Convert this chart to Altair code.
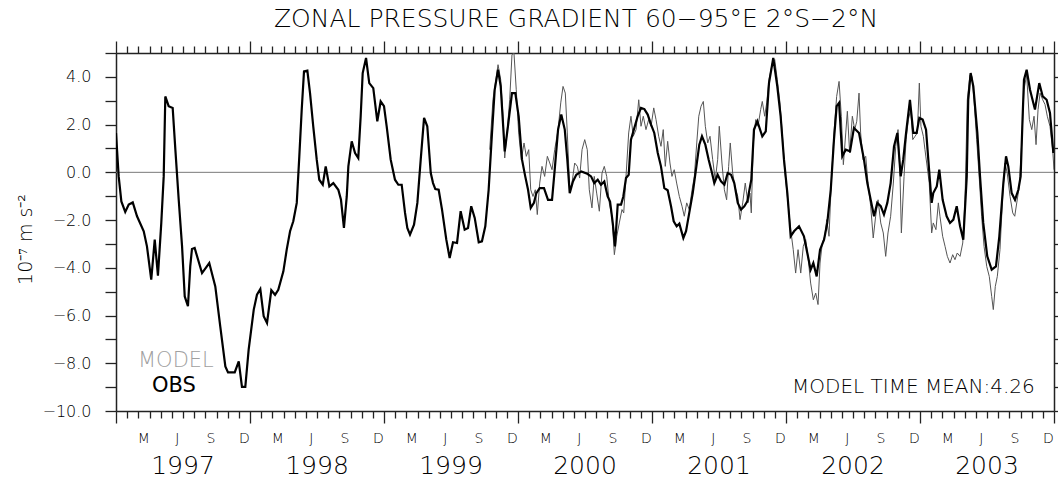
import altair as alt
import pandas as pd

# Observed gradient (10^-7 m s^-2), time in years since 1 Jan 1997
obs_t = [0.000, 0.020, 0.040, 0.069, 0.095, 0.125, 0.157, 0.207, 0.231, 0.263,
         0.289, 0.313, 0.338, 0.356, 0.368, 0.393, 0.423, 0.443, 0.468, 0.493,
         0.513, 0.537, 0.554, 0.567, 0.587, 0.642, 0.696, 0.741, 0.778, 0.816,
         0.836, 0.886, 0.916, 0.940, 0.965, 0.990, 1.028, 1.052, 1.077, 1.102,
         1.127, 1.159, 1.187, 1.211, 1.249, 1.274, 1.299, 1.323, 1.349, 1.368,
         1.386, 1.403, 1.428, 1.448, 1.472, 1.498, 1.517, 1.543, 1.565, 1.592,
         1.622, 1.659, 1.679, 1.701, 1.722, 1.734, 1.759, 1.784, 1.808, 1.826,
         1.841, 1.866, 1.890, 1.920, 1.950, 1.975, 2.000, 2.020, 2.050, 2.082,
         2.107, 2.132, 2.157, 2.174, 2.194, 2.224, 2.249, 2.274, 2.299, 2.323,
         2.349, 2.366, 2.383, 2.408, 2.433, 2.465, 2.490, 2.515, 2.545, 2.572,
         2.602, 2.627, 2.651, 2.677, 2.707, 2.731, 2.756, 2.781, 2.806, 2.826,
         2.851, 2.871, 2.901, 2.925, 2.955, 2.980, 3.005, 3.030, 3.054, 3.075,
         3.095, 3.119, 3.137, 3.162, 3.194, 3.224, 3.254, 3.274, 3.299, 3.323,
         3.349, 3.368, 3.386, 3.410, 3.435, 3.472, 3.517, 3.545, 3.569, 3.595,
         3.619, 3.644, 3.669, 3.687, 3.707, 3.724, 3.744, 3.769, 3.786, 3.806,
         3.826, 3.843, 3.868, 3.893, 3.918, 3.943, 3.968, 3.993, 4.017, 4.043,
         4.067, 4.092, 4.117, 4.142, 4.162, 4.184, 4.204, 4.234, 4.254, 4.278,
         4.304, 4.328, 4.353, 4.373, 4.398, 4.423, 4.448, 4.465, 4.490, 4.515,
         4.540, 4.565, 4.590, 4.614, 4.640, 4.664, 4.689, 4.711, 4.741, 4.761,
         4.786, 4.823, 4.849, 4.873, 4.905, 4.935, 4.960, 4.985, 5.010, 5.035,
         5.060, 5.097, 5.134, 5.159, 5.184, 5.204, 5.229, 5.254, 5.284, 5.308,
         5.334, 5.358, 5.378, 5.396, 5.420, 5.446, 5.478, 5.507, 5.545, 5.582,
         5.607, 5.632, 5.657, 5.681, 5.707, 5.731, 5.756, 5.781, 5.806, 5.831,
         5.856, 5.875, 5.896, 5.925, 5.950, 5.975, 5.995, 6.020, 6.045, 6.062,
         6.087, 6.099, 6.125, 6.144, 6.169, 6.199, 6.224, 6.249, 6.274, 6.299,
         6.323, 6.349, 6.360, 6.378, 6.398, 6.428, 6.448, 6.472, 6.502, 6.535,
         6.567, 6.592, 6.622, 6.642, 6.659, 6.684, 6.709, 6.734, 6.751, 6.766,
         6.776, 6.796, 6.821, 6.858, 6.890, 6.916, 6.945, 6.970, 6.995]
obs_v = [1.65, -0.17, -1.22, -1.66, -1.35, -1.26, -1.84, -2.47, -3.10, -4.50,
         -2.82, -4.33, -2.12, -0.17, 3.18, 2.77, 2.70, 0.95, -1.15, -3.10,
         -5.20, -5.61, -3.94, -3.21, -3.17, -4.22, -3.80, -4.78, -6.45, -8.13,
         -8.38, -8.38, -7.92, -8.99, -8.99, -7.43, -5.75, -5.13, -4.89, -6.03,
         -6.31, -4.94, -5.13, -4.92, -4.15, -3.24, -2.47, -2.05, -1.28, 0.67,
         2.63, 4.23, 4.26, 3.32, 1.93, 0.53, -0.31, -0.52, 0.25, -0.59,
         -0.45, -0.73, -1.15, -2.33, -1.01, 0.25, 1.30, 0.81, 0.60, 2.35,
         4.16, 4.79, 3.74, 3.53, 2.14, 2.97, 2.77, 1.93, 0.53, -0.31,
         -0.52, -0.52, -1.70, -2.33, -2.61, -2.19, -1.28, 0.53, 2.28, 1.93,
         -0.03, -0.45, -0.70, -0.73, -1.56, -2.82, -3.59, -2.93, -2.96, -1.63,
         -2.40, -2.33, -1.42, -1.91, -2.93, -2.89, -2.26, -0.73, 1.65, 3.46,
         4.30, 3.60, 0.88, 1.93, 3.32, 3.32, 2.35, 0.53, -0.17, -0.73,
         -1.49, -1.28, -0.87, -0.66, -0.66, -1.15, -1.15, 0.11, 1.79, 2.42,
         1.79, 0.53, -0.87, -0.38, -0.10, 0.04, -0.06, -0.17, -0.45, -0.31,
         -0.52, -0.38, -1.01, -1.22, -2.12, -3.10, -1.35, -1.35, -1.01, -0.24,
         -0.10, 1.37, 1.86, 2.35, 2.70, 2.65, 2.42, 2.00, 1.65, 0.81,
         0.25, -0.66, -0.75, -1.42, -2.05, -2.26, -2.15, -2.75, -2.47, -1.70,
         -0.87, 0.11, 1.16, 1.51, 1.16, 0.53, -0.03, -0.45, -0.10, -0.38,
         -0.52, -0.03, -0.10, -0.45, -1.28, -1.56, -1.42, -1.22, -0.31, 1.79,
         2.14, 1.51, 1.72, 3.74, 4.79, 3.60, 2.35, 0.53, -0.87, -2.68,
         -2.47, -2.26, -2.68, -3.38, -4.08, -3.80, -4.36, -3.24, -2.82, -2.12,
         -0.73, 1.37, 2.77, 2.91, 0.67, 0.95, 0.88, 1.86, 1.65, 0.53,
         -0.45, -1.15, -1.84, -1.28, -1.42, -1.77, -1.28, -0.45, 1.09, 1.65,
         -0.17, 0.53, 1.65, 3.04, 1.65, 1.65, 2.28, 2.21, 1.79, 0.53,
         -1.28, -0.87, -0.59, 0.11, -1.15, -1.84, -2.12, -1.98, -1.42, -2.26,
         -2.82, -0.17, 3.04, 4.16, 3.60, 1.65, -0.17, -2.12, -3.52, -4.08,
         -3.94, -2.68, -0.45, 0.67, 0.25, -0.87, -1.15, -0.73, -0.17, 2.35,
         3.88, 4.30, 3.46, 2.63, 3.74, 3.18, 3.04, 2.49, 0.81]

# Model gradient, same units and time base
model_t = [2.789, 2.813, 2.851, 2.871, 2.888, 2.901, 2.920, 2.938, 2.955, 2.970,
           2.987, 3.005, 3.025, 3.045, 3.062, 3.080, 3.095, 3.112, 3.129, 3.144,
           3.162, 3.179, 3.199, 3.219, 3.237, 3.254, 3.274, 3.299, 3.319, 3.336,
           3.353, 3.368, 3.386, 3.403, 3.423, 3.443, 3.460, 3.478, 3.498, 3.517,
           3.532, 3.552, 3.569, 3.587, 3.607, 3.627, 3.644, 3.662, 3.681, 3.701,
           3.719, 3.737, 3.756, 3.776, 3.789, 3.806, 3.826, 3.843, 3.860, 3.881,
           3.901, 3.918, 3.935, 3.955, 3.975, 3.993, 4.013, 4.030, 4.050, 4.067,
           4.084, 4.099, 4.117, 4.134, 4.149, 4.166, 4.184, 4.204, 4.224, 4.241,
           4.259, 4.278, 4.299, 4.316, 4.334, 4.349, 4.366, 4.383, 4.398, 4.416,
           4.433, 4.453, 4.472, 4.490, 4.502, 4.522, 4.540, 4.557, 4.572, 4.584,
           4.602, 4.619, 4.640, 4.657, 4.677, 4.696, 4.716, 4.731, 4.741, 4.756,
           4.774, 4.791, 4.811, 4.823, 4.841, 4.856, 4.873, 4.898, 4.916, 4.935,
           4.955, 4.972, 4.990, 5.010, 5.035, 5.054, 5.072, 5.090, 5.110, 5.129,
           5.147, 5.164, 5.184, 5.204, 5.222, 5.239, 5.254, 5.271, 5.289, 5.304,
           5.321, 5.338, 5.358, 5.378, 5.396, 5.413, 5.428, 5.446, 5.458, 5.475,
           5.495, 5.513, 5.528, 5.545, 5.557, 5.575, 5.595, 5.612, 5.632, 5.651,
           5.669, 5.687, 5.707, 5.726, 5.744, 5.761, 5.781, 5.801, 5.819, 5.836,
           5.851, 5.861, 5.881, 5.896, 5.913, 5.931, 5.946, 5.963, 5.980, 5.995,
           6.007, 6.025, 6.037, 6.050, 6.069, 6.087, 6.099, 6.119, 6.137, 6.149,
           6.169, 6.187, 6.204, 6.224, 6.244, 6.261, 6.278, 6.299, 6.319, 6.336,
           6.353, 6.373, 6.388, 6.403, 6.423, 6.443, 6.460, 6.478, 6.498, 6.517,
           6.535, 6.547, 6.562, 6.577, 6.597, 6.617, 6.634, 6.651, 6.672, 6.692,
           6.707, 6.722, 6.741, 6.759, 6.776, 6.796, 6.816, 6.834, 6.851, 6.866,
           6.881, 6.896, 6.916, 6.933, 6.950, 6.970, 6.990, 7.000]
model_v = [0.95, 3.04, 4.51, 3.88, 2.35, 0.60, 1.79, 3.04, 4.93, 5.00,
           3.46, 1.65, 0.53, 1.23, 0.67, 0.95, -0.73, -1.01, -0.73, -1.77,
           -0.45, 0.25, -0.17, 0.67, 0.39, 0.11, 0.95, 1.79, 2.91, 3.60,
           3.32, 1.65, -0.73, -0.45, 0.39, 0.25, -0.24, 0.95, 1.37, 0.95,
           -0.73, -1.49, -0.17, -0.87, -1.63, -0.03, 0.25, -0.17, -1.28, -1.84,
           -3.45, -2.68, -2.12, -1.56, -1.70, -0.17, 1.65, 2.35, 1.51, 1.79,
           3.04, 1.93, 2.35, 1.79, 2.21, 1.93, 2.70, 2.21, 1.51, 1.09,
           1.79, 0.25, 1.30, 0.39, -0.17, 0.11, -0.45, -1.01, -1.42, -1.84,
           -1.28, -1.56, -0.73, -0.17, 1.23, 2.35, 2.77, 2.97, 1.93, 1.23,
           1.51, 0.53, -0.31, 0.53, 1.93, 0.39, -0.73, -1.15, 0.25, 1.23,
           -0.03, -0.59, -1.01, -1.98, -1.28, -0.45, -1.28, -0.87, -1.70, 1.23,
           2.21, 1.93, 2.63, 2.97, 2.35, 2.91, 3.88, 4.58, 4.72, 3.88,
           2.91, 1.65, 0.11, -1.01, -2.40, -3.24, -4.22, -3.24, -4.22, -3.10,
           -2.82, -3.52, -4.64, -5.34, -5.06, -5.54, -3.80, -2.96, -2.68, -1.98,
           -2.68, -0.45, 1.65, 3.18, 3.81, 2.35, 0.32, 1.65, 2.56, 0.81,
           2.35, 1.79, 2.14, 3.32, 1.65, 0.53, 0.67, -0.45, -1.42, -2.75,
           -1.84, -1.15, -2.12, -2.54, -3.52, -2.54, -1.84, -0.45, 1.09, 1.79,
           -0.17, -2.54, -0.17, 1.37, 2.21, 2.63, 1.37, 1.51, 1.65, 3.74,
           1.93, 1.51, 0.95, 0.39, -0.45, -2.54, -2.12, -2.40, -1.28, -1.84,
           -2.68, -3.10, -3.52, -3.80, -3.45, -3.66, -3.38, -3.52, -2.96, -1.15,
           3.04, 4.09, 4.02, 3.04, 1.37, -0.31, -1.84, -3.10, -3.94, -4.36,
           -5.20, -5.75, -4.78, -4.36, -3.24, -1.01, 0.39, -0.03, -1.01, -1.70,
           -1.84, -1.28, -0.59, 1.23, 3.46, 4.09, 2.21, 1.79, 2.35, 1.16,
           2.63, 3.32, 3.04, 2.84, 2.35, 1.93, 0.95, 0.11]

start_year = 1997
years = [1997, 1998, 1999, 2000, 2001, 2002, 2003]
month_letters = ["M", "J", "S", "D"]
month_index = [2, 5, 8, 11]          # Mar, Jun, Sep, Dec (0 = Jan)

title_text = "ZONAL PRESSURE GRADIENT 60\u221295\u00b0E 2\u00b0S\u22122\u00b0N"
y_title = "10\u207b\u2077 m s\u207b\u00b2"
mean_text = "MODEL TIME MEAN:4.26"

FONT = "DejaVu Sans"
LIGHT = 200
INK = "#000000"
FRAME = "#222222"
W, H = 938, 358

obs = pd.DataFrame({"year": [start_year + t for t in obs_t], "value": obs_v})
model = pd.DataFrame({"year": [start_year + t for t in model_t], "value": model_v})
months = pd.DataFrame({
    "year": [y + (m + 0.5) / 12 for y in years for m in month_index],
    "label": [l for _ in years for l in month_letters],
})
year_labels = pd.DataFrame({"year": [y + 0.5 for y in years], "label": [str(y) for y in years]})
zero = pd.DataFrame({"value": [0.0]})

xs = alt.Scale(domain=[1997, 2004], nice=False, zero=False)
ys = alt.Scale(domain=[-10, 5], nice=False, zero=False)

month_ticks = [start_year + k / 12 for k in range(7 * 12 + 1)]
year_test = "abs(datum.value - round(datum.value)) < 0.01"
tick_len = {"condition": {"test": year_test, "value": 12}, "value": 7}
y_ticks = list(range(-10, 6))

common_axis = dict(grid=False, domainColor=FRAME, domainWidth=1.5, tickColor=FRAME,
                   tickWidth=1.3, labelFont=FONT, labelColor=INK,
                   labelFontWeight=LIGHT)

x_bottom = alt.Axis(orient="bottom", values=month_ticks, labels=False, title=None,
                    tickSize=tick_len, **common_axis)
x_top = alt.Axis(orient="top", values=month_ticks, labels=False, title=None,
                 tickSize=tick_len, **common_axis)
y_left = alt.Axis(orient="left", values=y_ticks, tickSize=11, labelPadding=14,
                  labelFontSize=16,
                  labelExpr="datum.value % 2 == 0 ? format(datum.value, '.1f') : ''",
                  title=y_title, titleFont=FONT, titleFontSize=19,
                  titleFontWeight=LIGHT, titleColor=INK, titleX=-91, titleY=186,
                  titleAngle=270, titleAlign="center", titleBaseline="middle",
                  **common_axis)
y_right = alt.Axis(orient="right", values=y_ticks, tickSize=8, labels=False,
                   title=None, **common_axis)

zero_line = alt.Chart(zero).mark_rule(color="#7a7a7a", strokeWidth=1).encode(
    y=alt.Y("value:Q", scale=ys, axis=None)
)

model_line = alt.Chart(model).mark_line(color="#555555", strokeWidth=1.0, clip=True).encode(
    x=alt.X("year:Q", scale=xs, axis=x_top),
    y=alt.Y("value:Q", scale=ys, axis=y_right),
)

obs_line = alt.Chart(obs).mark_line(color="#000000", strokeWidth=2.2, clip=True).encode(
    x=alt.X("year:Q", scale=xs, axis=x_bottom),
    y=alt.Y("value:Q", scale=ys, axis=y_left),
)

month_text = alt.Chart(months).mark_text(font=FONT, fontSize=14, fontWeight=LIGHT,
                                         color=INK, baseline="middle").encode(
    x=alt.X("year:Q", scale=xs, axis=None),
    y=alt.value(386),
    text="label:N",
)

year_text = alt.Chart(year_labels).mark_text(font=FONT, fontSize=25, fontWeight=LIGHT,
                                             color=INK, baseline="alphabetic").encode(
    x=alt.X("year:Q", scale=xs, axis=None),
    y=alt.value(421),
    text="label:N",
)

legend_model = alt.Chart(pd.DataFrame({"t": ["MODEL"]})).mark_text(
    font=FONT, fontSize=21, fontWeight=LIGHT, color="#a0a0a0", align="left",
    baseline="middle"
).encode(x=alt.value(22), y=alt.value(308), text="t:N")

legend_obs = alt.Chart(pd.DataFrame({"t": ["OBS"]})).mark_text(
    font=FONT, fontSize=21, fontWeight="normal", color="#000000", align="left",
    baseline="middle"
).encode(x=alt.value(36), y=alt.value(333), text="t:N")

mean_label = alt.Chart(pd.DataFrame({"t": [mean_text]})).mark_text(
    font=FONT, fontSize=20, fontWeight=LIGHT, color=INK, align="left",
    baseline="middle"
).encode(x=alt.value(676), y=alt.value(334), text="t:N")

title_mark = alt.Chart(pd.DataFrame({"t": [title_text]})).mark_text(
    font=FONT, fontSize=25, fontWeight=LIGHT, color=INK, align="center",
    baseline="alphabetic"
).encode(x=alt.value(460), y=alt.value(-26), text="t:N")

chart = (
    alt.layer(zero_line, model_line, obs_line, month_text, year_text,
              legend_model, legend_obs, mean_label, title_mark)
    .resolve_axis(x="independent", y="independent")
    .properties(
        width=W, height=H,
        autosize=alt.AutoSizeParams(type="none"),
        padding={"left": 116, "top": 53, "right": 4, "bottom": 69},
    )
    .configure_view(stroke=None)
    .configure(background="white")
)

chart.save("out.html", embed_options={"renderer": "svg", "actions": False})
